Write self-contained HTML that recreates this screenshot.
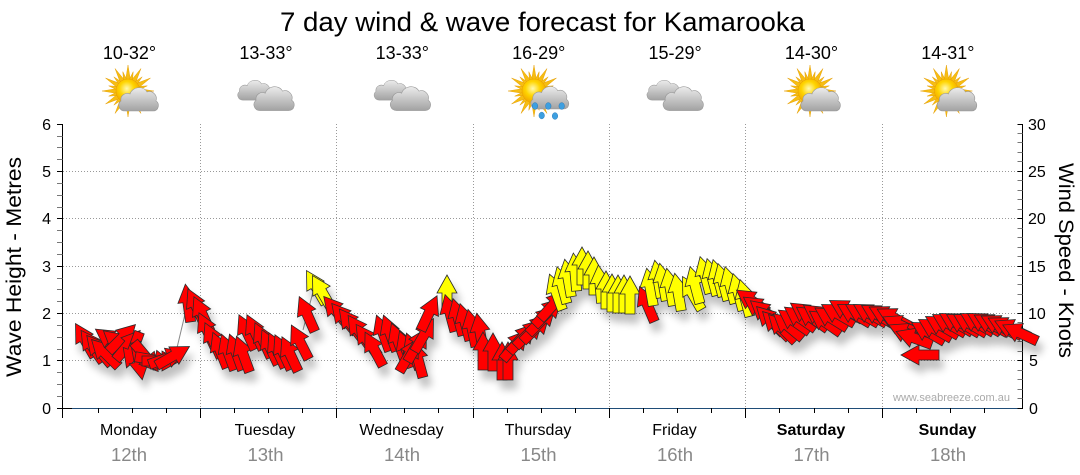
<!DOCTYPE html>
<html><head><meta charset="utf-8">
<style>
html,body{margin:0;padding:0;background:#fff;}
svg{display:block;font-family:"Liberation Sans",Arial,sans-serif;}
.r{fill:#ff0000}.y{fill:#ffff00}
</style></head><body>
<svg width="1080" height="475" viewBox="0 0 1080 475" xmlns="http://www.w3.org/2000/svg">
<defs>
 <radialGradient id="sg" cx="0.45" cy="0.4" r="0.6">
  <stop offset="0" stop-color="#fff9b0"/>
  <stop offset="0.5" stop-color="#ffd500"/>
  <stop offset="1" stop-color="#f0a200"/>
 </radialGradient>
 <linearGradient id="cg" x1="0" y1="0" x2="0" y2="26" gradientUnits="userSpaceOnUse">
  <stop offset="0" stop-color="#f4f4f4"/>
  <stop offset="1" stop-color="#a2a2a2"/>
 </linearGradient>
 <g id="cloud"><path d="M7,26 C1,26 -1,19 3,16 C2,10 8,7 12,9 C14,2 25,0 29,7 C34,5 40,10 38,16 C42,18 41,26 35,26 Z" fill="url(#cg)" stroke="#999" stroke-width="0.6"/></g>
 <path id="rl" d="M-2.6,-10 L0,-26 L2.6,-10 Z" fill="#f6bd12" stroke="#e39a00" stroke-width="0.4"/>
 <path id="rs" d="M-2,-10 L0,-20 L2,-10 Z" fill="#f6bd12" stroke="#e39a00" stroke-width="0.4"/>
 <g id="sun">
  <use href="#rl"/><use href="#rl" transform="rotate(30)"/><use href="#rl" transform="rotate(60)"/><use href="#rl" transform="rotate(90)"/>
  <use href="#rl" transform="rotate(120)"/><use href="#rl" transform="rotate(150)"/><use href="#rl" transform="rotate(180)"/><use href="#rl" transform="rotate(210)"/>
  <use href="#rl" transform="rotate(240)"/><use href="#rl" transform="rotate(270)"/><use href="#rl" transform="rotate(300)"/><use href="#rl" transform="rotate(330)"/>
  <use href="#rs" transform="rotate(15)"/><use href="#rs" transform="rotate(45)"/><use href="#rs" transform="rotate(75)"/><use href="#rs" transform="rotate(105)"/>
  <use href="#rs" transform="rotate(135)"/><use href="#rs" transform="rotate(165)"/><use href="#rs" transform="rotate(195)"/><use href="#rs" transform="rotate(225)"/>
  <use href="#rs" transform="rotate(255)"/><use href="#rs" transform="rotate(285)"/><use href="#rs" transform="rotate(315)"/><use href="#rs" transform="rotate(345)"/>
  <circle r="12" fill="url(#sg)" stroke="#e8a000" stroke-width="0.5"/>
 </g>
 <path id="ar" d="M0,-19 L10,-1 L5,-1 L5,19 L-5,19 L-5,-1 L-10,-1 Z"/>
 <filter id="sh" x="-10%" y="-20%" width="130%" height="160%">
  <feGaussianBlur in="SourceAlpha" stdDeviation="4"/>
  <feOffset dx="4" dy="9"/>
  <feComponentTransfer><feFuncA type="linear" slope="0.25"/></feComponentTransfer>
  <feMerge><feMergeNode/><feMergeNode in="SourceGraphic"/></feMerge>
 </filter>
</defs>

<text x="542.5" y="31" font-size="27" text-anchor="middle" textLength="525" lengthAdjust="spacingAndGlyphs" fill="#000">7 day wind &amp; wave forecast for Kamarooka</text>

<g font-size="18" text-anchor="middle" fill="#000">
 <text x="129.5" y="59">10-32°</text>
 <text x="266" y="59">13-33°</text>
 <text x="402.3" y="59">13-33°</text>
 <text x="538.7" y="59">16-29°</text>
 <text x="675.1" y="59">15-29°</text>
 <text x="811.5" y="59">14-30°</text>
 <text x="947.9" y="59">14-31°</text>
</g>

<use href="#sun" transform="translate(128,91)"/>
<use href="#cloud" transform="translate(118,85)"/>

<use href="#cloud" transform="translate(237,78) scale(0.85)"/>
<use href="#cloud" transform="translate(253,84) scale(1.02)"/>

<use href="#cloud" transform="translate(373.4,78) scale(0.85)"/>
<use href="#cloud" transform="translate(389.4,84) scale(1.02)"/>

<use href="#sun" transform="translate(534,91)"/>
<use href="#cloud" transform="translate(530,84) scale(0.96)"/>
<g fill="#3d9fe0" stroke="#1f6fb0" stroke-width="0.4">
 <ellipse cx="535" cy="106" rx="2.8" ry="3.4"/>
 <ellipse cx="548.3" cy="106" rx="2.8" ry="3.4"/>
 <ellipse cx="561.7" cy="106" rx="2.8" ry="3.4"/>
 <ellipse cx="541.7" cy="115.5" rx="2.8" ry="3.4"/>
 <ellipse cx="555" cy="116" rx="2.8" ry="3.4"/>
</g>

<use href="#cloud" transform="translate(646.2,78) scale(0.85)"/>
<use href="#cloud" transform="translate(662.2,84) scale(1.02)"/>

<use href="#sun" transform="translate(810,91)"/>
<use href="#cloud" transform="translate(800,85)"/>

<use href="#sun" transform="translate(946.4,91)"/>
<use href="#cloud" transform="translate(936.4,85)"/>

<g stroke="#999" stroke-width="1" stroke-dasharray="1,2" shape-rendering="crispEdges">
 <line x1="63" y1="360.5" x2="1018" y2="360.5"/>
 <line x1="63" y1="313.5" x2="1018" y2="313.5"/>
 <line x1="63" y1="266.5" x2="1018" y2="266.5"/>
 <line x1="63" y1="218.5" x2="1018" y2="218.5"/>
 <line x1="63" y1="171.5" x2="1018" y2="171.5"/>
 <line x1="200.5" y1="124" x2="200.5" y2="408"/>
 <line x1="336.5" y1="124" x2="336.5" y2="408"/>
 <line x1="473.5" y1="124" x2="473.5" y2="408"/>
 <line x1="609.5" y1="124" x2="609.5" y2="408"/>
 <line x1="745.5" y1="124" x2="745.5" y2="408"/>
 <line x1="882.5" y1="124" x2="882.5" y2="408"/>
</g>

<text x="893" y="401" font-size="11" fill="#aaa" textLength="117" lengthAdjust="spacingAndGlyphs">www.seabreeze.com.au</text>

<g shape-rendering="crispEdges">
 <line x1="62.5" y1="124" x2="62.5" y2="418" stroke="#000"/>
 <line x1="72" y1="408.5" x2="1019" y2="408.5" stroke="#1f4d78"/>
 <line x1="57" y1="408.5" x2="72" y2="408.5" stroke="#000"/>
 <line x1="1022.5" y1="124" x2="1022.5" y2="409" stroke="#000"/>
 <g stroke="#000">
  <line x1="57" y1="124.5" x2="62.5" y2="124.5"/>
  <line x1="57" y1="171.5" x2="62.5" y2="171.5"/>
  <line x1="57" y1="218.5" x2="62.5" y2="218.5"/>
  <line x1="57" y1="266.5" x2="62.5" y2="266.5"/>
  <line x1="57" y1="313.5" x2="62.5" y2="313.5"/>
  <line x1="57" y1="360.5" x2="62.5" y2="360.5"/>
  <line x1="1017.5" y1="124.5" x2="1022.5" y2="124.5"/>
  <line x1="1017.5" y1="171.5" x2="1022.5" y2="171.5"/>
  <line x1="1017.5" y1="218.5" x2="1022.5" y2="218.5"/>
  <line x1="1017.5" y1="266.5" x2="1022.5" y2="266.5"/>
  <line x1="1017.5" y1="313.5" x2="1022.5" y2="313.5"/>
  <line x1="1017.5" y1="360.5" x2="1022.5" y2="360.5"/>
  <line x1="1017.5" y1="408.5" x2="1022.5" y2="408.5"/>
  <line x1="200.5" y1="408" x2="200.5" y2="418"/>
  <line x1="336.5" y1="408" x2="336.5" y2="418"/>
  <line x1="473.5" y1="408" x2="473.5" y2="418"/>
  <line x1="609.5" y1="408" x2="609.5" y2="418"/>
  <line x1="745.5" y1="408" x2="745.5" y2="418"/>
  <line x1="882.5" y1="408" x2="882.5" y2="418"/>
  <line x1="98.5" y1="408" x2="98.5" y2="413"/><line x1="132.5" y1="408" x2="132.5" y2="413"/><line x1="166.5" y1="408" x2="166.5" y2="413"/>
  <line x1="234.5" y1="408" x2="234.5" y2="413"/><line x1="268.5" y1="408" x2="268.5" y2="413"/><line x1="302.5" y1="408" x2="302.5" y2="413"/>
  <line x1="370.5" y1="408" x2="370.5" y2="413"/><line x1="404.5" y1="408" x2="404.5" y2="413"/><line x1="438.5" y1="408" x2="438.5" y2="413"/>
  <line x1="507.5" y1="408" x2="507.5" y2="413"/><line x1="541.5" y1="408" x2="541.5" y2="413"/><line x1="575.5" y1="408" x2="575.5" y2="413"/>
  <line x1="643.5" y1="408" x2="643.5" y2="413"/><line x1="677.5" y1="408" x2="677.5" y2="413"/><line x1="711.5" y1="408" x2="711.5" y2="413"/>
  <line x1="779.5" y1="408" x2="779.5" y2="413"/><line x1="814.5" y1="408" x2="814.5" y2="413"/><line x1="848.5" y1="408" x2="848.5" y2="413"/>
  <line x1="916.5" y1="408" x2="916.5" y2="413"/><line x1="950.5" y1="408" x2="950.5" y2="413"/><line x1="984.5" y1="408" x2="984.5" y2="413"/>
 </g>
 <g stroke="#777">
  <line x1="57" y1="396.5" x2="62.5" y2="396.5"/><line x1="57" y1="384.5" x2="62.5" y2="384.5"/><line x1="57" y1="372.5" x2="62.5" y2="372.5"/>
  <line x1="57" y1="349.5" x2="62.5" y2="349.5"/><line x1="57" y1="337.5" x2="62.5" y2="337.5"/><line x1="57" y1="325.5" x2="62.5" y2="325.5"/>
  <line x1="57" y1="301.5" x2="62.5" y2="301.5"/><line x1="57" y1="289.5" x2="62.5" y2="289.5"/><line x1="57" y1="278.5" x2="62.5" y2="278.5"/>
  <line x1="57" y1="254.5" x2="62.5" y2="254.5"/><line x1="57" y1="242.5" x2="62.5" y2="242.5"/><line x1="57" y1="230.5" x2="62.5" y2="230.5"/>
  <line x1="57" y1="207.5" x2="62.5" y2="207.5"/><line x1="57" y1="195.5" x2="62.5" y2="195.5"/><line x1="57" y1="183.5" x2="62.5" y2="183.5"/>
  <line x1="57" y1="159.5" x2="62.5" y2="159.5"/><line x1="57" y1="147.5" x2="62.5" y2="147.5"/><line x1="57" y1="136.5" x2="62.5" y2="136.5"/>
  <line x1="1017.5" y1="398.5" x2="1022.5" y2="398.5"/><line x1="1017.5" y1="389.5" x2="1022.5" y2="389.5"/><line x1="1017.5" y1="379.5" x2="1022.5" y2="379.5"/><line x1="1017.5" y1="370.5" x2="1022.5" y2="370.5"/>
  <line x1="1017.5" y1="351.5" x2="1022.5" y2="351.5"/><line x1="1017.5" y1="341.5" x2="1022.5" y2="341.5"/><line x1="1017.5" y1="332.5" x2="1022.5" y2="332.5"/><line x1="1017.5" y1="322.5" x2="1022.5" y2="322.5"/>
  <line x1="1017.5" y1="303.5" x2="1022.5" y2="303.5"/><line x1="1017.5" y1="294.5" x2="1022.5" y2="294.5"/><line x1="1017.5" y1="284.5" x2="1022.5" y2="284.5"/><line x1="1017.5" y1="275.5" x2="1022.5" y2="275.5"/>
  <line x1="1017.5" y1="256.5" x2="1022.5" y2="256.5"/><line x1="1017.5" y1="247.5" x2="1022.5" y2="247.5"/><line x1="1017.5" y1="237.5" x2="1022.5" y2="237.5"/><line x1="1017.5" y1="228.5" x2="1022.5" y2="228.5"/>
  <line x1="1017.5" y1="209.5" x2="1022.5" y2="209.5"/><line x1="1017.5" y1="199.5" x2="1022.5" y2="199.5"/><line x1="1017.5" y1="190.5" x2="1022.5" y2="190.5"/><line x1="1017.5" y1="180.5" x2="1022.5" y2="180.5"/>
  <line x1="1017.5" y1="161.5" x2="1022.5" y2="161.5"/><line x1="1017.5" y1="152.5" x2="1022.5" y2="152.5"/><line x1="1017.5" y1="142.5" x2="1022.5" y2="142.5"/><line x1="1017.5" y1="133.5" x2="1022.5" y2="133.5"/>
 </g>
</g>

<g font-size="16" fill="#000" text-anchor="end">
 <text x="51" y="130">6</text><text x="51" y="177">5</text><text x="51" y="224">4</text>
 <text x="51" y="272">3</text><text x="51" y="319">2</text><text x="51" y="366">1</text><text x="51" y="414">0</text>
</g>
<g font-size="16" fill="#000">
 <text x="1028" y="130">30</text><text x="1028" y="177">25</text><text x="1028" y="224">20</text>
 <text x="1028" y="272">15</text><text x="1028" y="319">10</text><text x="1029" y="366">5</text><text x="1029" y="414">0</text>
</g>

<text transform="translate(21,267) rotate(-90)" font-size="21" text-anchor="middle" textLength="220" lengthAdjust="spacingAndGlyphs" fill="#000">Wave Height - Metres</text>
<text transform="translate(1059,260.5) rotate(90)" font-size="21" text-anchor="middle" textLength="195" lengthAdjust="spacingAndGlyphs" fill="#000">Wind Speed - Knots</text>

<g font-size="16" fill="#000" text-anchor="middle">
 <text x="128.5" y="435">Monday</text>
 <text x="265" y="435">Tuesday</text>
 <text x="401.5" y="435">Wednesday</text>
 <text x="538" y="435">Thursday</text>
 <text x="674.5" y="435">Friday</text>
 <text x="811" y="435" font-weight="bold">Saturday</text>
 <text x="947.5" y="435" font-weight="bold">Sunday</text>
</g>
<g font-size="18.5" fill="#888" text-anchor="middle">
 <text x="129" y="461">12th</text>
 <text x="265.5" y="461">13th</text>
 <text x="402" y="461">14th</text>
 <text x="538.5" y="461">15th</text>
 <text x="675" y="461">16th</text>
 <text x="811.5" y="461">17th</text>
 <text x="948" y="461">18th</text>
</g>

<g stroke="#888" stroke-width="1">
 <line x1="176" y1="352" x2="186" y2="310"/>
 <line x1="303" y1="330" x2="313" y2="292"/>
</g>

<g filter="url(#sh)" stroke="#2a2a2a" stroke-width="0.8">
<use href="#ar" class="r" transform="translate(85,340) rotate(-30)"/>
<use href="#ar" class="r" transform="translate(92,346) rotate(-35)"/>
<use href="#ar" class="r" transform="translate(99,350) rotate(-40)"/>
<use href="#ar" class="r" transform="translate(105,353) rotate(-45)"/>
<use href="#ar" class="r" transform="translate(111,340) rotate(-55)"/>
<use href="#ar" class="r" transform="translate(118,343) rotate(-50)"/>
<use href="#ar" class="r" transform="translate(122,338) rotate(45)"/>
<use href="#ar" class="r" transform="translate(128,345) rotate(40)"/>
<use href="#ar" class="r" transform="translate(133,350) rotate(200)"/>
<use href="#ar" class="r" transform="translate(139,361) rotate(170)"/>
<use href="#ar" class="r" transform="translate(146,357) rotate(140)"/>
<use href="#ar" class="r" transform="translate(154,360) rotate(100)"/>
<use href="#ar" class="r" transform="translate(161,361) rotate(90)"/>
<use href="#ar" class="r" transform="translate(167,358) rotate(70)"/>
<use href="#ar" class="r" transform="translate(173,356) rotate(60)"/>
<use href="#ar" class="r" transform="translate(188,303) rotate(-8)"/>
<use href="#ar" class="r" transform="translate(196,306) rotate(-25)"/>
<use href="#ar" class="r" transform="translate(202,314) rotate(-25)"/>
<use href="#ar" class="r" transform="translate(207,330) rotate(-25)"/>
<use href="#ar" class="r" transform="translate(213,340) rotate(-25)"/>
<use href="#ar" class="r" transform="translate(220,350) rotate(-22)"/>
<use href="#ar" class="r" transform="translate(228,352) rotate(-20)"/>
<use href="#ar" class="r" transform="translate(236,352) rotate(-20)"/>
<use href="#ar" class="r" transform="translate(243,354) rotate(-20)"/>
<use href="#ar" class="r" transform="translate(247,332) rotate(-25)"/>
<use href="#ar" class="r" transform="translate(255,332) rotate(-25)"/>
<use href="#ar" class="r" transform="translate(263,340) rotate(-25)"/>
<use href="#ar" class="r" transform="translate(270,347) rotate(-25)"/>
<use href="#ar" class="r" transform="translate(277,350) rotate(-25)"/>
<use href="#ar" class="r" transform="translate(283,352) rotate(-25)"/>
<use href="#ar" class="r" transform="translate(290,354) rotate(-25)"/>
<use href="#ar" class="r" transform="translate(300,342) rotate(-27)"/>
<use href="#ar" class="r" transform="translate(307,314) rotate(-24)"/>
<use href="#ar" class="y" transform="translate(316,287) rotate(-30)"/>
<use href="#ar" class="y" transform="translate(322,292) rotate(-30)"/>
<use href="#ar" class="r" transform="translate(336,311) rotate(-40)"/>
<use href="#ar" class="r" transform="translate(344,318) rotate(-40)"/>
<use href="#ar" class="r" transform="translate(351,324) rotate(-38)"/>
<use href="#ar" class="r" transform="translate(359,331) rotate(-35)"/>
<use href="#ar" class="r" transform="translate(367,340) rotate(-35)"/>
<use href="#ar" class="r" transform="translate(374,349) rotate(-28)"/>
<use href="#ar" class="r" transform="translate(383,333) rotate(-20)"/>
<use href="#ar" class="r" transform="translate(390,333) rotate(-20)"/>
<use href="#ar" class="r" transform="translate(398,341) rotate(-20)"/>
<use href="#ar" class="r" transform="translate(406,349) rotate(-20)"/>
<use href="#ar" class="r" transform="translate(413,351) rotate(-20)"/>
<use href="#ar" class="r" transform="translate(418,359) rotate(-15)"/>
<use href="#ar" class="r" transform="translate(409,355) rotate(30)"/>
<use href="#ar" class="r" transform="translate(417,345) rotate(30)"/>
<use href="#ar" class="r" transform="translate(424,335) rotate(30)"/>
<use href="#ar" class="r" transform="translate(429,313) rotate(25)"/>
<use href="#ar" class="y" transform="translate(447,294) rotate(0)"/>
<use href="#ar" class="r" transform="translate(450,313) rotate(-15)"/>
<use href="#ar" class="r" transform="translate(458,317) rotate(-15)"/>
<use href="#ar" class="r" transform="translate(465,322) rotate(-15)"/>
<use href="#ar" class="r" transform="translate(472,328) rotate(-12)"/>
<use href="#ar" class="r" transform="translate(480,332) rotate(-10)"/>
<use href="#ar" class="r" transform="translate(483,351) rotate(0)"/>
<use href="#ar" class="r" transform="translate(493,352) rotate(0)"/>
<use href="#ar" class="r" transform="translate(502,361) rotate(0)"/>
<use href="#ar" class="r" transform="translate(508,361) rotate(0)"/>
<use href="#ar" class="r" transform="translate(515,345) rotate(40)"/>
<use href="#ar" class="r" transform="translate(522,338) rotate(42)"/>
<use href="#ar" class="r" transform="translate(529,333) rotate(45)"/>
<use href="#ar" class="r" transform="translate(536,328) rotate(45)"/>
<use href="#ar" class="r" transform="translate(542,320) rotate(45)"/>
<use href="#ar" class="r" transform="translate(548,312) rotate(45)"/>
<use href="#ar" class="r" transform="translate(553,305) rotate(42)"/>
<use href="#ar" class="y" transform="translate(556,292) rotate(-20)"/>
<use href="#ar" class="y" transform="translate(562,285) rotate(-15)"/>
<use href="#ar" class="y" transform="translate(568,278) rotate(-10)"/>
<use href="#ar" class="y" transform="translate(575,272) rotate(-5)"/>
<use href="#ar" class="y" transform="translate(582,266) rotate(0)"/>
<use href="#ar" class="y" transform="translate(588,270) rotate(0)"/>
<use href="#ar" class="y" transform="translate(594,276) rotate(0)"/>
<use href="#ar" class="y" transform="translate(600,284) rotate(-5)"/>
<use href="#ar" class="y" transform="translate(606,290) rotate(0)"/>
<use href="#ar" class="y" transform="translate(612,293) rotate(0)"/>
<use href="#ar" class="y" transform="translate(618,294) rotate(0)"/>
<use href="#ar" class="y" transform="translate(624,294) rotate(0)"/>
<use href="#ar" class="y" transform="translate(630,295) rotate(0)"/>
<use href="#ar" class="r" transform="translate(647,304) rotate(-23)"/>
<use href="#ar" class="y" transform="translate(650,287) rotate(-10)"/>
<use href="#ar" class="y" transform="translate(658,279) rotate(-10)"/>
<use href="#ar" class="y" transform="translate(663,282) rotate(-10)"/>
<use href="#ar" class="y" transform="translate(670,287) rotate(-10)"/>
<use href="#ar" class="y" transform="translate(678,292) rotate(-10)"/>
<use href="#ar" class="y" transform="translate(692,293) rotate(-30)"/>
<use href="#ar" class="y" transform="translate(695,285) rotate(-15)"/>
<use href="#ar" class="y" transform="translate(705,275) rotate(-15)"/>
<use href="#ar" class="y" transform="translate(712,277) rotate(-15)"/>
<use href="#ar" class="y" transform="translate(718,278) rotate(-15)"/>
<use href="#ar" class="y" transform="translate(723,282) rotate(-15)"/>
<use href="#ar" class="y" transform="translate(730,285) rotate(-15)"/>
<use href="#ar" class="y" transform="translate(738,292) rotate(-15)"/>
<use href="#ar" class="y" transform="translate(745,298) rotate(-15)"/>
<use href="#ar" class="r" transform="translate(752,301) rotate(-55)"/>
<use href="#ar" class="r" transform="translate(759,308) rotate(-55)"/>
<use href="#ar" class="r" transform="translate(765,313) rotate(-50)"/>
<use href="#ar" class="r" transform="translate(770,320) rotate(-45)"/>
<use href="#ar" class="r" transform="translate(776,325) rotate(-45)"/>
<use href="#ar" class="r" transform="translate(782,328) rotate(-45)"/>
<use href="#ar" class="r" transform="translate(788,326) rotate(-50)"/>
<use href="#ar" class="r" transform="translate(794,321) rotate(-55)"/>
<use href="#ar" class="r" transform="translate(800,318) rotate(-55)"/>
<use href="#ar" class="r" transform="translate(806,314) rotate(-55)"/>
<use href="#ar" class="r" transform="translate(812,318) rotate(-55)"/>
<use href="#ar" class="r" transform="translate(819,316) rotate(-55)"/>
<use href="#ar" class="r" transform="translate(825,322) rotate(-55)"/>
<use href="#ar" class="r" transform="translate(831,318) rotate(-58)"/>
<use href="#ar" class="r" transform="translate(838,314) rotate(-60)"/>
<use href="#ar" class="r" transform="translate(846,310) rotate(-60)"/>
<use href="#ar" class="r" transform="translate(854,314) rotate(-60)"/>
<use href="#ar" class="r" transform="translate(862,314) rotate(-60)"/>
<use href="#ar" class="r" transform="translate(870,314) rotate(-60)"/>
<use href="#ar" class="r" transform="translate(878,315) rotate(-60)"/>
<use href="#ar" class="r" transform="translate(886,316) rotate(-62)"/>
<use href="#ar" class="r" transform="translate(894,318) rotate(-62)"/>
<use href="#ar" class="r" transform="translate(900,325) rotate(-65)"/>
<use href="#ar" class="r" transform="translate(906,333) rotate(-65)"/>
<use href="#ar" class="r" transform="translate(914,338) rotate(-70)"/>
<use href="#ar" class="r" transform="translate(920,355) rotate(-90)"/>
<use href="#ar" class="r" transform="translate(928,332) rotate(-60)"/>
<use href="#ar" class="r" transform="translate(935,329) rotate(-60)"/>
<use href="#ar" class="r" transform="translate(942,326) rotate(-60)"/>
<use href="#ar" class="r" transform="translate(949,324) rotate(-60)"/>
<use href="#ar" class="r" transform="translate(956,323) rotate(-60)"/>
<use href="#ar" class="r" transform="translate(963,324) rotate(-60)"/>
<use href="#ar" class="r" transform="translate(970,324) rotate(-60)"/>
<use href="#ar" class="r" transform="translate(977,323) rotate(-60)"/>
<use href="#ar" class="r" transform="translate(984,323) rotate(-60)"/>
<use href="#ar" class="r" transform="translate(991,324) rotate(-62)"/>
<use href="#ar" class="r" transform="translate(998,325) rotate(-62)"/>
<use href="#ar" class="r" transform="translate(1005,327) rotate(-62)"/>
<use href="#ar" class="r" transform="translate(1012,329) rotate(-65)"/>
<use href="#ar" class="r" transform="translate(1020,333) rotate(-65)"/>
</g>
</svg>
</body></html>
